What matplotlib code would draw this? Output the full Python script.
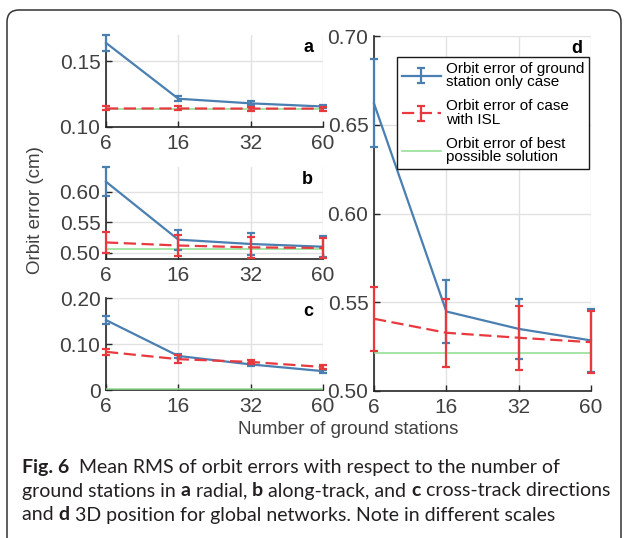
"""Mean RMS orbit errors vs number of ground stations (Fig. 6)."""
import matplotlib
matplotlib.use("Agg")
import matplotlib.pyplot as plt
from matplotlib.patches import FancyBboxPatch

stations = ["6", "16", "32", "60"]

# a: radial
a_gs = [0.164, 0.1215, 0.118, 0.1156]
a_gs_err = [0.0058, 0.002, 0.0015, 0.0012]
a_isl = [0.1141, 0.1141, 0.1140, 0.1140]
a_isl_err = [0.0015, 0.0015, 0.0015, 0.0015]
a_best = 0.1136

# b: along-track
b_gs = [0.616, 0.5215, 0.5145, 0.510]
b_gs_err = [0.024, 0.0165, 0.0175, 0.017]
b_isl = [0.517, 0.512, 0.509, 0.508]
b_isl_err = [0.017, 0.0175, 0.0175, 0.0165]
b_best = 0.5065

# c: cross-track
c_gs = [0.152, 0.074, 0.0556, 0.041]
c_gs_err = [0.009, 0.004, 0.003, 0.003]
c_isl = [0.083, 0.067, 0.061, 0.050]
c_isl_err = [0.006, 0.009, 0.005, 0.005]
c_best = 0.003

# d: 3D position
d_gs = [0.662, 0.5448, 0.535, 0.5285]
d_gs_err = [0.0248, 0.0175, 0.017, 0.0178]
d_isl = [0.5407, 0.5328, 0.530, 0.5275]
d_isl_err = [0.018, 0.019, 0.018, 0.0175]
d_best = 0.5216

BLUE = "#4a7fb1"
RED = "#e8393f"
GREEN = "#8edc8e"
TXT = "#404040"

plt.rcParams["font.family"] = ["Liberation Sans", "DejaVu Sans"]

fig = plt.figure(figsize=(6.26, 5.38), dpi=100)
W, H = 626, 538


def make_axes(left, top, right, bottom):
    return fig.add_axes([left / W, 1 - bottom / H, (right - left) / W, (bottom - top) / H])


def draw_panel(ax, gs, gs_err, isl, isl_err, best, ylim, yticks, ylabels, tag, tagpos):
    x = list(range(len(stations)))
    ax.plot([x[0], x[-1]], [best, best], color=GREEN, lw=1.1, zorder=2.6,
            label="Orbit error of best\npossible solution")
    h1 = ax.errorbar(x, gs, yerr=gs_err, color=BLUE, lw=1.6, elinewidth=1.6, capsize=3,
                     capthick=1.6, zorder=3, clip_on=False,
                     label="Orbit error of ground\nstation only case")
    h2 = ax.errorbar(x, isl, yerr=isl_err, color=RED, lw=1.6, elinewidth=1.6, capsize=3,
                     capthick=1.6, ls=(0, (5.5, 2.5)), zorder=4, clip_on=False,
                     label="Orbit error of case\nwith ISL")
    h2[-1][0].set_linestyle("-")
    ax.set_xlim(0, 3)
    ax.set_ylim(*ylim)
    ax.set_xticks(x)
    ax.set_xticklabels(stations)
    ax.set_yticks(yticks)
    ax.set_yticklabels(ylabels)
    ax.tick_params(direction="in", length=4, width=1, colors="#262626",
                   labelcolor=TXT, labelsize=15)
    ax.tick_params(axis="x", pad=5)
    ax.tick_params(axis="y", pad=4)
    ax.grid(True, color="#e2e2e2", lw=1)
    ax.set_axisbelow(True)
    for s in ("top", "right"):
        ax.spines[s].set_visible(False)
    for s in ("left", "bottom"):
        ax.spines[s].set_color("#262626")
        ax.spines[s].set_linewidth(1.2)
        ax.spines[s].set_zorder(2.5)
    ax.text(tagpos[0], tagpos[1], tag, transform=ax.transAxes, ha="right", va="center",
            fontsize=13, fontweight="bold", color="black")
    return h1, h2


ax_a = make_axes(106, 35, 323, 127)
ax_b = make_axes(106, 167, 323, 259)
ax_c = make_axes(106, 298, 323, 390)
ax_d = make_axes(374, 36, 591, 391)

draw_panel(ax_a, a_gs, a_gs_err, a_isl, a_isl_err, a_best, (0.10, 0.17),
           [0.10, 0.15], ["0.10", "0.15"], "a", (0.955, 0.86))
draw_panel(ax_b, b_gs, b_gs_err, b_isl, b_isl_err, b_best, (0.49, 0.64),
           [0.50, 0.55, 0.60], ["0.50", "0.55", "0.60"], "b", (0.955, 0.86))
draw_panel(ax_c, c_gs, c_gs_err, c_isl, c_isl_err, c_best, (0.0, 0.20),
           [0.0, 0.10, 0.20], ["0", "0.10", "0.20"], "c", (0.955, 0.85))
draw_panel(ax_d, d_gs, d_gs_err, d_isl, d_isl_err, d_best, (0.50, 0.70),
           [0.50, 0.55, 0.60, 0.65, 0.70], ["0.50", "0.55", "0.60", "0.65", "0.70"],
           "d", (0.96, 0.965))

handles, labels = ax_d.get_legend_handles_labels()
order = [1, 2, 0]
leg = ax_d.legend([handles[i] for i in order], [labels[i] for i in order],
                  loc="upper right", bbox_to_anchor=(0.99, 0.94), fontsize=11,
                  handlelength=2.6, handletextpad=0.3, borderpad=0.3,
                  borderaxespad=0, labelspacing=0.65, fancybox=False, framealpha=1,
                  edgecolor="#1a1a1a")
leg.get_frame().set_linewidth(1)
for t in leg.get_texts():
    t.set_linespacing(0.95)

fig.text(35 / W, 1 - 210 / H, "Orbit error (cm)", rotation=90, ha="center", va="center",
         fontsize=13.5, color=TXT)
fig.text(348 / W, 1 - 429 / H, "Number of ground stations", ha="center", va="center",
         fontsize=13.5, color=TXT)

# outer rounded frame (open at the bottom)
frame = FancyBboxPatch((7, -40), 614, H - 10 + 40, boxstyle="round,pad=0,rounding_size=12",
                       transform=None, fill=False, ec="#333333", lw=1.1)
fig.add_artist(frame)

# caption with bold runs
cap_font = ["Lato", "DejaVu Sans"]
lines = [
    [("Fig. 6", True), ("  Mean RMS of orbit errors with respect to the number of", False)],
    [("ground stations in ", False), ("a", True), (" radial, ", False), ("b", True),
     (" along-track, and ", False), ("c", True), (" cross-track directions", False)],
    [("and ", False), ("d", True), (" 3D position for global networks. Note in different scales", False)],
]
line_y = [467, 491, 515]
renderer = fig.canvas.get_renderer()


def place_line(runs, yy, size, draw=True):
    xpix = 22
    made = []
    for s, bold in runs:
        t = fig.text(xpix / W, 1 - yy / H, s, ha="left", va="center", fontsize=size,
                     family=cap_font, fontweight="bold" if bold else "normal",
                     color="#231f20")
        xpix += t.get_window_extent(renderer).width
        made.append(t)
    if not draw:
        for t in made:
            t.remove()
    return xpix


# pick the caption size so the second line ends near the right frame
base = 12.0
end = place_line(lines[1], line_y[1], base, draw=False)
cap_size = base * (606 - 22) / (end - 22)
for runs, yy in zip(lines, line_y):
    place_line(runs, yy, cap_size)

fig.savefig("out.png", dpi=100)
